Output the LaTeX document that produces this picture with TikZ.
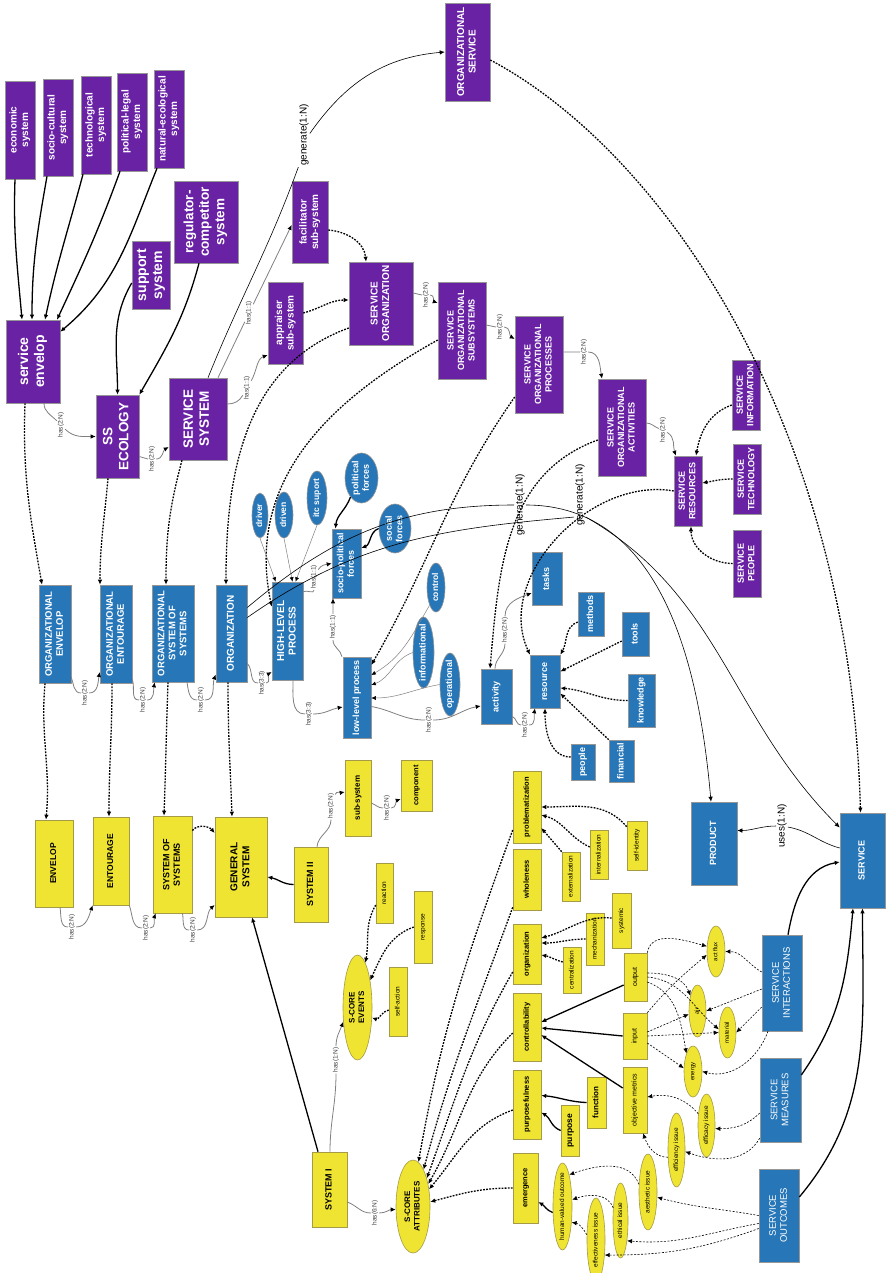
\documentclass[tikz,border=0pt]{standalone}
\usepackage{fontspec}
\setmainfont{Liberation Sans}
\usepackage{graphicx}
\usetikzlibrary{arrows.meta,shapes.geometric}
\definecolor{purp}{RGB}{106,34,165}
\definecolor{blu}{RGB}{38,118,184}
\definecolor{yel}{RGB}{239,228,50}
\definecolor{bord}{RGB}{150,150,150}
\definecolor{ybord}{RGB}{165,155,70}
\newcommand\rtext[1]{\rotatebox{90}{\smash{\makebox[0pt]{\raisebox{-.25em}{\begin{tabular}{@{}c@{}}#1\end{tabular}}}}}}
\newcommand\mkbox[7]{\node[#6,minimum width={(#4-#2)*1pt},minimum height={(#5-#3)*1pt}] (#1) at ({(#2+#4)/2},{-(#3+#5)/2}) {\rtext{#7}};}
\begin{document}
\begin{tikzpicture}[x=1pt,y=1pt,
  pbox/.style={draw=bord,fill=purp,text=white,inner sep=0pt,line width=0.6pt},
  bbox/.style={draw=bord,fill=blu,text=white,inner sep=0pt,line width=0.6pt},
  ybox/.style={draw=ybord,fill=yel,text=black,inner sep=0pt,line width=0.6pt},
  bell/.style={bbox,shape=ellipse},
  yell/.style={ybox,shape=ellipse},
  fb/.style 2 args={font=\fontsize{#1}{#2}\selectfont\bfseries},
  fr/.style 2 args={font=\fontsize{#1}{#2}\selectfont},
  atip/.style={-{Latex[length=5pt,width=4.5pt]}},
  sol/.style={atip,line width=1.3pt},
  thn/.style={atip,line width=0.6pt},
  dotl/.style={atip,line width=1.3pt,dash pattern=on 1.8pt off 1.3pt},
  dsh/.style={atip,line width=0.6pt,dash pattern=on 2pt off 1.5pt},
  has/.style={-{Latex[length=5pt,width=4.5pt,color=black]},draw=gray,line width=0.8pt},
  gthin/.style={-{Latex[length=4.5pt,width=4pt,color=black]},draw=gray,line width=0.5pt},
  lbl/.style={font=\fontsize{6.5}{7}\selectfont,text=black!75,inner sep=1pt},
  glbl/.style={font=\fontsize{10}{11}\selectfont,inner sep=1pt}]
\useasboundingbox (0,0) rectangle (889,-1273);
\fill[white] (0,0) rectangle (889,-1273);
% ---------- purple ----------
\mkbox{eco}{5}{81}{35}{179}{pbox,fb={10}{11.5}}{economic\\system}
\mkbox{soc}{43}{79}{73}{176}{pbox,fb={10}{11.5}}{socio-cultural\\system}
\mkbox{tec}{81}{76}{111}{174}{pbox,fb={10}{11.5}}{technological\\system}
\mkbox{pol}{117}{73}{147}{171}{pbox,fb={10}{11.5}}{political-legal\\system}
\mkbox{nat}{154}{70}{184}{168}{pbox,fb={10}{11.5}}{natural-ecological\\system}
\mkbox{reg}{174}{181}{238}{263}{pbox,fb={13.5}{15.5}}{regulator-\\competitor\\system}
\mkbox{sup}{132}{241}{170}{309}{pbox,fb={14}{16}}{support\\system}
\mkbox{senv}{6}{320}{60}{403}{pbox,fb={14}{16}}{service\\envelop}
\mkbox{ssec}{96}{395}{139}{478}{pbox,fb={13.5}{16}}{SS\\ECOLOGY}
\mkbox{ssys}{169}{378}{227}{460}{pbox,fb={13.5}{16}}{SERVICE\\SYSTEM}
\mkbox{app}{268}{282}{303}{364}{pbox,fb={10}{11.5}}{appraiser\\sub-system}
\mkbox{fac}{292}{181}{328}{263}{pbox,fb={10}{11.5}}{facilitator\\sub-system}
\mkbox{osv}{445}{3}{490}{101}{pbox,fb={10}{11.5}}{ORGANIZATIONAL\\SERVICE}
\mkbox{sorg}{349}{262}{413}{345}{pbox,fb={10}{11.5}}{SERVICE\\ORGANIZATION}
\mkbox{sos}{438}{282}{486}{379}{pbox,fb={9}{10.5}}{SERVICE\\ORGANIZATIONAL\\SUBSYSTEMS}
\mkbox{sop}{515}{316}{563}{413}{pbox,fb={9}{10.5}}{SERVICE\\ORGANIZATIONAL\\PROCESSES}
\mkbox{soa}{598}{379}{646}{476}{pbox,fb={9}{10.5}}{SERVICE\\ORGANIZATIONAL\\ACTIVITIES}
\mkbox{sres}{674}{456}{702}{526}{pbox,fb={9}{10.5}}{SERVICE\\RESOURCES}
\mkbox{sinf}{732}{360}{760}{430}{pbox,fb={9}{10.5}}{SERVICE\\INFORMATION}
\mkbox{stec}{733}{444}{761}{514}{pbox,fb={9}{10.5}}{SERVICE\\TECHNOLOGY}
\mkbox{speo}{733}{530}{761}{597}{pbox,fb={9}{10.5}}{SERVICE\\PEOPLE}
% ---------- blue ----------
\mkbox{oenv}{39}{585}{71}{683}{bbox,fb={9.5}{11}}{ORGANIZATIONAL\\ENVELOP}
\mkbox{oent}{100}{585}{132}{683}{bbox,fb={9.5}{11}}{ORGANIZATIONAL\\ENTOURAGE}
\mkbox{osos}{152}{585}{194}{682}{bbox,fb={9.5}{11}}{ORGANIZATIONAL\\SYSTEM OF\\SYSTEMS}
\mkbox{org}{216}{585}{247}{682}{bbox,fb={10}{11.5}}{ORGANIZATION}
\mkbox{hlp}{272}{582}{303}{680}{bbox,fb={10}{11.5}}{HIGH-LEVEL\\PROCESS}
\mkbox{spf}{332}{529}{361}{598}{bbox,fb={9}{10.5}}{socio-political\\forces}
\mkbox{llp}{343}{657}{371}{738}{bbox,fb={9}{10.5}}{low-level process}
\mkbox{act}{481}{669}{512}{724}{bbox,fb={9}{10.5}}{activity}
\mkbox{res}{530}{655}{560}{708}{bbox,fb={9}{10.5}}{resource}
\mkbox{tasks}{532}{552}{562}{605}{bbox,fb={9}{10.5}}{tasks}
\mkbox{meth}{578}{592}{604}{636}{bbox,fb={9}{10.5}}{methods}
\mkbox{tools}{622}{612}{649}{656}{bbox,fb={9}{10.5}}{tools}
\mkbox{know}{628}{674}{655}{727}{bbox,fb={9}{10.5}}{knowledge}
\mkbox{fin}{609}{740}{634}{782}{bbox,fb={9}{10.5}}{financial}
\mkbox{peo}{571}{744}{595}{780}{bbox,fb={9}{10.5}}{people}
\mkbox{prod}{691}{802}{737}{885}{bbox,fb={9}{10.5}}{PRODUCT}
\mkbox{serv}{840}{813}{885}{908}{bbox,fb={9}{10.5}}{SERVICE}
\mkbox{sint}{762}{935}{802}{1031}{bbox,fr={9.5}{11}}{SERVICE\\INTERACTIONS}
\mkbox{smea}{760}{1058}{801}{1142}{bbox,fr={9.5}{11}}{SERVICE\\MEASURES}
\mkbox{sout}{759}{1169}{799}{1262}{bbox,fr={9.5}{11}}{SERVICE\\OUTCOMES}
\mkbox{drv}{252}{493}{268}{538}{bell,fb={8.5}{10}}{driver}
\mkbox{drn}{275}{492}{293}{538}{bell,fb={8.5}{10}}{driven}
\mkbox{itc}{307}{471}{327}{525}{bell,fb={8.5}{10}}{itc suport}
\mkbox{polf}{345}{453}{378}{503}{bell,fb={9}{10.5}}{political\\forces}
\mkbox{socf}{379}{504}{411}{553}{bell,fb={9}{10.5}}{social\\forces}
\mkbox{ctl}{427}{563}{445}{612}{bell,fb={8.5}{10}}{control}
\mkbox{inf}{413}{617}{434}{688}{bell,fb={9}{10.5}}{informational}
\mkbox{opl}{440}{653}{460}{716}{bell,fb={9}{10.5}}{operational}
% ---------- yellow ----------
\mkbox{yenv}{35}{820}{73}{907}{ybox,fb={8.5}{10}}{ENVELOP}
\mkbox{yent}{93}{817}{129}{905}{ybox,fb={8.5}{10}}{ENTOURAGE}
\mkbox{ysos}{153}{816}{192}{913}{ybox,fb={9}{10.5}}{SYSTEM OF\\SYSTEMS}
\mkbox{gsys}{215}{817}{267}{917}{ybox,fb={10}{12}}{GENERAL\\SYSTEM}
\mkbox{sys2}{294}{847}{328}{922}{ybox,fb={9}{10.5}}{SYSTEM II}
\mkbox{subs}{345}{760}{371}{836}{ybox,fb={8}{9.5}}{sub-system}
\mkbox{comp}{401}{760}{432}{811}{ybox,fb={7.5}{9}}{component}
\mkbox{reac}{376}{863}{393}{923}{ybox,fr={6.5}{7.5}}{reaction}
\mkbox{resp}{414}{891}{432}{963}{ybox,fr={6.5}{7.5}}{response}
\mkbox{sact}{389}{967}{407}{1036}{ybox,fr={6.5}{7.5}}{self-action}
\mkbox{sev}{343}{955}{372}{1060}{yell,fb={8}{9.5}}{S-CORE\\EVENTS}
\mkbox{sys1}{312}{1152}{347}{1227}{ybox,fb={9}{10.5}}{SYSTEM I}
\mkbox{satt}{396}{1160}{430}{1253}{yell,fb={8}{9.5}}{S-CORE\\ATTRIBUTES}
\mkbox{prob}{513}{771}{541}{843}{ybox,fb={7.5}{9}}{problematization}
\mkbox{whol}{513}{849}{541}{910}{ybox,fb={7.5}{9}}{wholeness}
\mkbox{ext}{562}{852}{580}{901}{ybox,fr={6.5}{7.5}}{externalization}
\mkbox{intl}{590}{830}{608}{879}{ybox,fr={6.5}{7.5}}{internalization}
\mkbox{sid}{627}{821}{647}{870}{ybox,fr={6.5}{7.5}}{self-identity}
\mkbox{syst}{612}{893}{631}{948}{ybox,fr={6.5}{7.5}}{systemic}
\mkbox{mech}{586}{913}{604}{965}{ybox,fr={6.5}{7.5}}{mechanization}
\mkbox{cent}{563}{947}{581}{993}{ybox,fr={6.5}{7.5}}{centralization}
\mkbox{orgn}{513}{924}{541}{984}{ybox,fb={7.5}{9}}{organization}
\mkbox{ctrl}{513}{993}{541}{1061}{ybox,fb={7.5}{9}}{controllability}
\mkbox{purp}{513}{1070}{541}{1139}{ybox,fb={7.5}{9}}{purposefulness}
\mkbox{purpo}{561}{1105}{579}{1156}{ybox,fb={8.5}{10}}{purpose}
\mkbox{func}{587}{1077}{606}{1128}{ybox,fb={8}{9.5}}{function}
\mkbox{emer}{513}{1153}{538}{1223}{ybox,fb={7.5}{9}}{emergence}
\mkbox{hvo}{553}{1163}{572}{1250}{yell,fr={6.5}{7.5}}{human-valued outcome}
\mkbox{effi}{587}{1198}{605}{1282}{yell,fr={6.5}{7.5}}{effectiveness issue}
\mkbox{eth}{613}{1183}{628}{1258}{yell,fr={6.5}{7.5}}{ethical issue}
\mkbox{aes}{639}{1154}{657}{1230}{yell,fr={6.5}{7.5}}{aesthetic issue}
\mkbox{effc}{668}{1113}{685}{1187}{yell,fr={6.5}{7.5}}{efficiency issue}
\mkbox{effa}{698}{1094}{715}{1157}{yell,fr={6.5}{7.5}}{efficacy issue}
\mkbox{obj}{623}{1067}{647}{1133}{ybox,fr={7}{8}}{objective metrics}
\mkbox{inp}{623}{1013}{647}{1059}{ybox,fr={7}{8}}{input}
\mkbox{outp}{624}{953}{647}{1001}{ybox,fr={7}{8}}{output}
\mkbox{ener}{684}{1046}{702}{1097}{yell,fr={6}{7}}{energy}
\mkbox{mat}{719}{1007}{736}{1058}{yell,fr={6}{7}}{material}
\mkbox{air}{689}{985}{706}{1037}{yell,fr={6}{7}}{air}
\mkbox{afl}{707}{926}{725}{977}{yell,fr={6}{7}}{act flux}
% ---------- connector labels ----------
\node[lbl] (h1) at (61,-425) {\rotatebox{90}{has(2:N)}};
\node[lbl] (h2) at (152,-459) {\rotatebox{90}{has(2:N)}};
\node[lbl] (h3) at (247,-388) {\rotatebox{90}{has(1:1)}};
\node[lbl] (h4) at (249,-313) {\rotatebox{90}{has(1:1)}};
\node[lbl] (h5) at (426,-295) {\rotatebox{90}{has(2:N)}};
\node[lbl] (h6) at (500,-327) {\rotatebox{90}{has(2:N)}};
\node[lbl] (h7) at (584,-352) {\rotatebox{90}{has(2:N)}};
\node[lbl] (h8) at (663,-430) {\rotatebox{90}{has(2:N)}};
\node[lbl] (h9) at (85,-693) {\rotatebox{90}{has(2:N)}};
\node[lbl] (h10) at (143,-700) {\rotatebox{90}{has(2:N)}};
\node[lbl] (h11) at (201,-700) {\rotatebox{90}{has(2:N)}};
\node[lbl] (h12) at (262,-683) {\rotatebox{90}{has(3:3)}};
\node[lbl] (h13) at (309,-714) {\rotatebox{90}{has(3:3)}};
\node[lbl] (h14) at (314,-577) {\rotatebox{90}{has(1:1)}};
\node[lbl] (h15) at (333,-627) {\rotatebox{90}{has(1:1)}};
\node[lbl] (h16) at (429,-720) {\rotatebox{90}{has(2:N)}};
\node[lbl] (h17) at (505,-630) {\rotatebox{90}{has(2:N)}};
\node[lbl] (h18) at (525,-725) {\rotatebox{90}{has(2:N)}};
\node[lbl] (h19) at (72,-927) {\rotatebox{90}{has(2:N)}};
\node[lbl] (h20) at (146,-928) {\rotatebox{90}{has(2:N)}};
\node[lbl] (h21) at (193,-930) {\rotatebox{90}{has(2:N)}};
\node[lbl] (h22) at (331,-806) {\rotatebox{90}{has(2:N)}};
\node[lbl] (h23) at (387,-808) {\rotatebox{90}{has(2:N)}};
\node[lbl] (h24) at (336,-1060) {\rotatebox{90}{has(1:N)}};
\node[lbl] (h25) at (375,-1213) {\rotatebox{90}{has(6:N)}};
\node[glbl] (g1) at (304,-135) {\rotatebox{90}{generate(1:N)}};
\node[glbl] (g2) at (520,-505) {\rotatebox{90}{generate(1:N)}};
\node[glbl] (g3) at (580,-495) {\rotatebox{90}{generate(1:N)}};
\node[glbl] (u1) at (782,-826) {\rotatebox{90}{uses(1:N)}};
% ---------- purple connectors ----------
\draw[sol] ([xshift=-5pt]eco.south) to[out=-92,in=95] ([xshift=-11pt]senv.north);
\draw[sol] ([xshift=-11pt]soc.south) to[out=-100,in=90] ([xshift=-1pt]senv.north);
\draw[sol] ([xshift=-13pt]tec.south) to[out=-105,in=78] ([xshift=12pt]senv.north);
\draw[sol] ([xshift=-12pt]pol.south) to[out=-110,in=65] ([xshift=24pt]senv.north);
\draw[sol] ([xshift=-12pt]nat.south) to[out=-112,in=40] ([yshift=-12pt]senv.north east);
\draw[sol] ([yshift=-8pt]sup.west) to[out=-120,in=90] (ssec.north);
\draw[sol] ([xshift=-7pt]reg.south) to[out=-105,in=60] (ssec.north east);
\draw[has] ([xshift=11pt]senv.south) to[out=-90,in=135] (h1) to[out=-45,in=180] (ssec.west);
\draw[has] ([yshift=-20pt]ssec.east) to[out=0,in=180] (h2) to[out=0,in=210] ([yshift=-28pt]ssys.west);
\draw[has] ([yshift=15pt]ssys.east) to[out=0,in=240] (h3) to[out=60,in=200] ([yshift=-32pt]app.west);
\draw[has] ([xshift=20pt]ssys.north) -- (h4) -- ([yshift=-3pt]fac.west);
\draw[thn] ([xshift=10pt]ssys.north) to[out=68,in=-110] (g1.-100) (g1.15) to[out=55,in=185] (osv.west);
\draw[dotl] ([yshift=10pt]app.east) to[out=15,in=180] ([yshift=3.5pt]sorg.west);
\draw[dotl] ([yshift=-8pt]fac.east) to[out=-5,in=95] ([xshift=-15pt]sorg.north);
\draw[has] ([yshift=10.5pt]sorg.east) to[out=0,in=180] (h5) to[out=0,in=160] ([yshift=27.5pt]sos.west);
\draw[has] ([yshift=5.5pt]sos.east) to[out=0,in=180] (h6) to[out=0,in=150] ([yshift=25.5pt]sop.west);
\draw[has] ([yshift=12.5pt]sop.east) to[out=0,in=180] (h7) to[out=0,in=100] ([xshift=-20pt]soa.north);
\draw[has] ([yshift=4.5pt]soa.east) to[out=0,in=160] (h8) to[out=-30,in=110] ([xshift=-12pt]sres.north);
\draw[dotl] ([yshift=-10pt]sinf.west) to[out=200,in=80] ([xshift=8pt]sres.north);
\draw[dotl] (stec.west) to[out=180,in=10] ([yshift=8pt]sres.east);
\draw[dotl] (speo.west) to[out=180,in=-90] ([xshift=3pt]sres.south);
\draw[dotl] ([yshift=-8pt]osv.east) .. controls (660,-150) and (850,-420) .. ([xshift=-2pt]serv.north);
% ---------- purple to blue ----------
\draw[dotl] ([xshift=-8pt]senv.south) to[out=-92,in=100] ([xshift=-13pt]oenv.north);
\draw[dotl] ([xshift=-9.5pt]ssec.south) to[out=-95,in=90] ([xshift=-16pt]oent.north);
\draw[dotl] ([xshift=-16pt]ssys.south) to[out=-105,in=90] ([xshift=-7pt]osos.north);
\draw[dotl] ([yshift=-24.5pt]sorg.west) to[out=200,in=90] ([xshift=-5.5pt]org.north);
\draw[dotl] ([yshift=-9.5pt]sos.west) .. controls (330,-400) and (245,-480) .. ([yshift=-25pt]hlp.north west);
\draw[dotl] ([yshift=-32.5pt]sop.west) to[out=235,in=60] ([yshift=32.5pt]llp.east);
\draw[dotl] ([yshift=-12.5pt]soa.west) to[out=200,in=85] ([xshift=-6.5pt]act.north);
\draw[dotl] (sres.west) to[out=170,in=115] ([xshift=-15pt]res.north);
% ---------- blue connectors ----------
\draw[has] ([yshift=6pt]oenv.south east) to[out=-70,in=180] (h9) to[out=0,in=-100] ([yshift=-38pt]oent.west);
\draw[has] ([yshift=4pt]oent.south east) to[out=-70,in=180] (h10) to[out=0,in=-100] ([xshift=3pt]osos.south west);
\draw[has] ([xshift=14pt]osos.south) to[out=-80,in=180] (h11) to[out=0,in=-110] ([yshift=-41pt]org.west);
\draw[has] ([yshift=-30pt]org.east) to[out=-45,in=180] (h12) to[out=0,in=-150] ([yshift=-41pt]hlp.west);
\draw[has] ([xshift=5.5pt]hlp.south) to[out=-90,in=180] (h13) to[out=0,in=190] ([yshift=-9.5pt]llp.west);
\draw[has] ([yshift=-10pt]hlp.north east) to[out=30,in=-90] (h14) to[out=60,in=190] (spf.west);
\draw[has] ([xshift=-15pt]llp.north) to[out=100,in=-90] (h15) to[out=90,in=-90] ([xshift=-13.5pt]spf.south);
\draw[has] ([yshift=-9pt]llp.east) to[out=-10,in=180] (h16) to[out=0,in=190] ([yshift=-9.5pt]act.west);
\draw[has] ([xshift=-1.5pt]act.north) to[out=90,in=-90] (h17) to[out=90,in=200] ([yshift=-14.5pt]tasks.west);
\draw[has] ([yshift=-20pt]act.east) to[out=-20,in=180] (h18) to[out=0,in=-100] ([xshift=-10pt]res.south);
\draw[gthin] (drv.south) -- ([xshift=4pt]hlp.north west);
\draw[gthin] (drn.south) -- ([xshift=5pt]hlp.north);
\draw[gthin] (itc.south) -- ([xshift=8pt]hlp.north);
\draw[sol] (polf.240) to[out=250,in=85] ([xshift=-11pt]spf.north);
\draw[sol] (socf.west) to[out=200,in=20] ([yshift=15.5pt]spf.east);
\draw[gthin] (ctl.250) to[out=240,in=30] ([yshift=22.5pt]llp.east);
\draw[gthin] (inf.west) to[out=200,in=20] ([yshift=12.5pt]llp.east);
\draw[gthin] (opl.west) to[out=190,in=0] ([yshift=-0.5pt]llp.east);
\draw[dotl] ([yshift=-8pt]meth.west) to[out=200,in=60] (res.north east);
\draw[dotl] ([yshift=-7pt]tools.west) -- ([yshift=10pt]res.east);
\draw[dotl] (know.west) to[out=180,in=-5] ([yshift=-6.5pt]res.east);
\draw[dotl] (fin.north west) -- ([yshift=-12pt]res.east);
\draw[dotl] ([yshift=5pt]peo.west) to[out=180,in=-90] (res.south);
\draw[thn] ([yshift=26pt]org.east) to[out=40,in=180] (g2) to[out=0,in=95] ([xshift=-3pt]prod.north);
\draw[thn] ([yshift=16pt]org.east) to[out=35,in=185] ([yshift=10pt]g3.south west) ([yshift=10pt]g3.south east) to[out=-30,in=135] ([yshift=33pt]serv.west);
\draw[thn] ([yshift=12.5pt]serv.west) to[out=165,in=-10] (u1) to[out=180,in=0] ([yshift=13pt]prod.east);
\draw[sol] ([xshift=6pt]sint.north) to[out=80,in=190] ([yshift=-1.5pt]serv.west);
\draw[sol] ([yshift=25pt]smea.east) to[out=55,in=-95] ([xshift=-9.5pt]serv.south);
\draw[sol] ([yshift=18.5pt]sout.east) to[out=50,in=-90] (serv.south);
% ---------- blue to yellow ----------
\draw[dotl] ([xshift=-10pt]oenv.south) to[out=-95,in=85] ([xshift=-8pt]yenv.north);
\draw[dotl] ([xshift=-4pt]oent.south) to[out=-90,in=90] ([xshift=-2pt]yent.north);
\draw[dotl] ([xshift=-5pt]osos.south) to[out=-92,in=88] ([xshift=-8.5pt]ysos.north);
\draw[dotl] ([xshift=-3.5pt]org.south) to[out=-90,in=92] ([xshift=-9pt]gsys.north);
% ---------- yellow connectors ----------
\draw[has] ([xshift=6pt]yenv.south) to[out=-80,in=180] (h19) to[out=0,in=-110] (yent.south west);
\draw[has] (yent.south east) to[out=-70,in=180] (h20) to[out=0,in=-110] ([xshift=3pt]ysos.south west);
\draw[has] ([xshift=10pt]ysos.south) to[out=-80,in=180] (h21) to[out=0,in=-140] ([yshift=-38pt]gsys.west);
\draw[dotl] ([yshift=34pt]ysos.east) to[out=50,in=130] ([yshift=34pt]gsys.west);
\draw[sol] (sys2.west) to[out=180,in=-10] ([yshift=-10pt]gsys.east);
\draw[sol] ([xshift=-11.5pt]sys1.north) -- ([xshift=11pt]gsys.south);
\draw[has] ([xshift=6pt]sys2.north) to[out=85,in=-90] (h22) to[out=70,in=190] ([yshift=6pt]subs.west);
\draw[has] ([yshift=-5pt]subs.east) to[out=-20,in=180] (h23) to[out=0,in=200] ([yshift=-13.5pt]comp.west);
\draw[has] ([xshift=0.5pt]sys1.north) to[out=90,in=-90] (h24) to[out=90,in=250] (sev.225);
\draw[has] ([yshift=-12.5pt]sys1.east) to[out=-20,in=180] (h25) to[out=0,in=180] (satt.190);
\draw[dotl] ([yshift=-12pt]reac.west) to[out=240,in=80] (sev.80);
\draw[dotl] (resp.west) to[out=200,in=65] (sev.65);
\draw[dotl] ([yshift=-8.5pt]sact.west) to[out=190,in=-20] (sev.-35);
\draw[dotl] ([yshift=-23pt]prob.west) to[out=250,in=80] (satt.83);
\draw[dotl] ([yshift=3pt]whol.south west) to[out=250,in=75] (satt.74);
\draw[dotl] ([yshift=-18pt]orgn.west) to[out=240,in=70] (satt.64);
\draw[dotl] ([yshift=-6pt]ctrl.west) to[out=225,in=60] (satt.56);
\draw[dotl] ([yshift=-5.5pt]purp.west) to[out=200,in=50] (satt.47);
\draw[dotl] (emer.west) to[out=180,in=15] (satt.15);
\draw[dotl] (ext.north west) -- ([yshift=-21pt]prob.east);
\draw[dotl] ([yshift=7.5pt]intl.west) to[out=155,in=-15] ([yshift=-8pt]prob.east);
\draw[dotl] ([yshift=-6pt]sid.north west) to[out=130,in=0] (prob.east);
\draw[dotl] ([yshift=2.5pt]syst.west) to[out=175,in=15] ([yshift=16pt]orgn.east);
\draw[dotl] (mech.west) to[out=180,in=0] ([yshift=11pt]orgn.east);
\draw[dotl] ([yshift=8pt]cent.west) to[out=165,in=-10] ([yshift=-1pt]orgn.east);
\draw[sol] ([yshift=-8pt]outp.west) -- ([yshift=5pt]ctrl.east);
\draw[sol] (inp.west) -- ([yshift=-1pt]ctrl.east);
\draw[sol] ([yshift=12pt]obj.west) -- ([yshift=-8pt]ctrl.east);
\draw[sol] (func.west) to[out=178,in=-5] ([yshift=9pt]purp.east);
\draw[sol] (purpo.west) to[out=160,in=-30] ([yshift=-8pt]purp.east);
\draw[sol] ([yshift=-6pt]hvo.west) to[out=160,in=-30] ([yshift=-14pt]emer.east);
\draw[dsh] (aes.140) to[out=110,in=20] (hvo.78);
\draw[dsh] (eth.120) to[out=110,in=20] (hvo.35);
\draw[dsh] (effi.150) to[out=120,in=-10] (hvo.-60);
\draw[dsh] (effa.125) to[out=130,in=10] ([yshift=3pt]obj.east);
\draw[dsh] (effc.220) to[out=180,in=-70] ([xshift=8pt]obj.south);
\draw[dsh] ([yshift=-13pt]smea.west) to[out=225,in=0] (effa.-20);
\draw[dsh] ([yshift=4pt]smea.south west) to[out=240,in=-20] (effc.-10);
\draw[dsh] (sout.west) to[out=170,in=-15] (aes.-30);
\draw[dsh] ([yshift=-8pt]sout.west) to[out=190,in=-5] (eth.-72);
\draw[dsh] ([yshift=-13pt]sout.west) to[out=200,in=0] (effi.-60);
\draw[dsh] ([yshift=11pt]sint.west) to[out=150,in=0] (afl.east);
\draw[dsh] ([yshift=-6pt]sint.west) -- (air.east);
\draw[dsh] ([yshift=-24pt]sint.west) -- (mat.east);
\draw[dsh] ([xshift=-14pt]sint.south) to[out=250,in=-15] (ener.east);
\draw[dsh] (outp.north east) to[out=80,in=165] (afl.150);
\draw[dsh] ([yshift=4pt]outp.east) to[out=0,in=110] (air.115);
\draw[dsh] (outp.east) to[out=-5,in=140] (mat.160);
\draw[dsh] ([yshift=-5pt]outp.east) to[out=-20,in=100] (ener.110);
\draw[dsh] (inp.north east) to[out=50,in=220] (afl.200);
\draw[dsh] ([yshift=4pt]inp.east) -- (air.200);
\draw[dsh] (inp.east) -- (mat.west);
\draw[dsh] ([yshift=-7pt]inp.east) -- (ener.160);
\end{tikzpicture}
\end{document}
